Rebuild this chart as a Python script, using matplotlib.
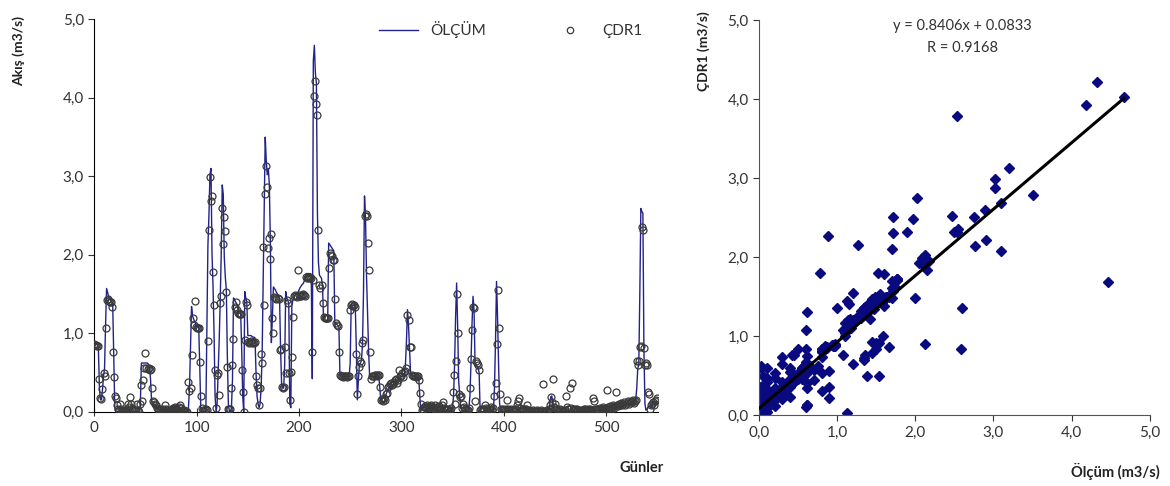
import numpy as np
import matplotlib
matplotlib.use('Agg')
import matplotlib.pyplot as plt
from matplotlib.lines import Line2D
from matplotlib.ticker import FuncFormatter

plt.rcParams['font.family'] = ['Lato', 'DejaVu Sans']

# Daily flow values (m3/s), day 0 ... 550
olcum = [
    0.87, 0.87, 0.86, 0.85, 0.80, 0.30, 0.15, 0.15, 0.28, 0.45,
    0.55, 1.10, 1.57, 1.52, 1.47, 1.45, 1.43, 1.40, 1.36, 0.70,
    0.05, 0.00, 0.00, 0.00, 0.00, 0.00, 0.00, 0.00, 0.00, 0.00,
    0.00, 0.00, 0.00, 0.00, 0.00, 0.00, 0.00, 0.00, 0.00, 0.00,
    0.00, 0.00, 0.00, 0.00, 0.00, 0.10, 0.62, 0.62, 0.62, 0.62,
    0.62, 0.62, 0.62, 0.60, 0.58, 0.40, 0.13, 0.12, 0.10, 0.08,
    0.06, 0.05, 0.04, 0.03, 0.03, 0.02, 0.02, 0.02, 0.01, 0.01,
    0.01, 0.01, 0.01, 0.01, 0.00, 0.00, 0.00, 0.00, 0.00, 0.00,
    0.00, 0.00, 0.00, 0.00, 0.00, 0.00, 0.00, 0.00, 0.00, 0.00,
    0.00, 0.00, 0.05, 0.30, 0.80, 1.34, 1.22, 1.18, 1.15, 1.12,
    1.10, 1.10, 1.08, 0.60, 0.05, 0.00, 0.00, 0.00, 0.00, 0.00,
    1.12, 2.12, 2.50, 3.02, 3.10, 2.02, 1.60, 1.00, 0.20, 0.00,
    0.10, 0.50, 0.90, 1.40, 2.00, 2.89, 2.77, 1.97, 1.72, 1.55,
    0.70, 0.10, 0.00, 0.00, 0.05, 0.40, 1.45, 1.43, 1.40, 1.38,
    1.32, 1.30, 1.28, 1.25, 0.80, 0.20, 0.00, 1.53, 1.45, 1.40,
    0.97, 0.97, 0.97, 0.97, 0.96, 0.95, 0.95, 0.94, 0.50, 0.20,
    0.10, 0.05, 0.10, 0.30, 0.75, 1.70, 2.60, 3.50, 3.20, 3.02,
    3.10, 2.90, 2.18, 0.88, 1.20, 1.59, 1.57, 1.55, 1.52, 1.50,
    1.48, 1.45, 0.80, 0.35, 0.30, 0.30, 0.60, 1.53, 1.45, 1.42,
    1.38, 0.10, 0.05, 1.35, 1.42, 1.45, 1.48, 1.50, 1.50, 1.52,
    1.55, 1.58, 1.60, 1.62, 1.63, 1.66, 1.70, 1.76, 1.76, 1.76,
    1.76, 1.76, 1.70, 0.42, 4.47, 4.67, 4.32, 4.18, 2.53, 1.90,
    1.74, 1.72, 1.70, 1.60, 1.17, 1.16, 1.15, 1.14, 1.14, 2.15,
    2.13, 2.11, 2.09, 2.07, 2.05, 1.13, 1.12, 1.11, 1.10, 1.08,
    0.46, 0.45, 0.45, 0.45, 0.45, 0.45, 0.45, 0.45, 0.45, 0.45,
    0.62, 1.36, 1.36, 1.35, 1.35, 1.34, 0.80, 0.15, 0.40, 0.60,
    0.62, 0.65, 0.85, 1.50, 2.75, 2.47, 1.72, 1.27, 0.78, 0.45,
    0.45, 0.45, 0.45, 0.45, 0.45, 0.45, 0.46, 0.46, 0.45, 0.30,
    0.14, 0.13, 0.13, 0.13, 0.14, 0.22, 0.25, 0.28, 0.30, 0.30,
    0.31, 0.32, 0.33, 0.35, 0.37, 0.38, 0.40, 0.40, 0.42, 0.44,
    0.45, 0.45, 0.46, 0.47, 0.60, 0.90, 1.30, 1.10, 0.80, 0.50,
    0.46, 0.45, 0.45, 0.45, 0.45, 0.44, 0.44, 0.44, 0.20, 0.02,
    0.02, 0.02, 0.02, 0.02, 0.02, 0.02, 0.02, 0.02, 0.02, 0.02,
    0.02, 0.02, 0.02, 0.02, 0.01, 0.01, 0.01, 0.01, 0.01, 0.01,
    0.01, 0.01, 0.01, 0.01, 0.01, 0.01, 0.01, 0.01, 0.01, 0.02,
    0.05, 0.20, 0.60, 1.20, 1.64, 1.10, 0.40, 0.20, 0.05, 0.02,
    0.01, 0.01, 0.00, 0.00, 0.00, 0.00, 0.05, 0.20, 0.60, 1.10,
    1.47, 1.30, 0.62, 0.60, 0.58, 0.55, 0.50, 0.00, 0.00, 0.00,
    0.00, 0.00, 0.00, 0.00, 0.00, 0.00, 0.00, 0.00, 0.00, 0.00,
    0.02, 0.30, 0.90, 1.66, 1.20, 0.60, 0.10, 0.02, 0.00, 0.00,
    0.00, 0.00, 0.00, 0.00, 0.00, 0.00, 0.00, 0.00, 0.00, 0.00,
    0.00, 0.00, 0.00, 0.00, 0.00, 0.00, 0.00, 0.00, 0.00, 0.00,
    0.00, 0.00, 0.00, 0.00, 0.00, 0.00, 0.00, 0.00, 0.00, 0.00,
    0.00, 0.00, 0.00, 0.00, 0.00, 0.00, 0.00, 0.00, 0.00, 0.00,
    0.00, 0.00, 0.00, 0.00, 0.02, 0.08, 0.19, 0.20, 0.10, 0.02,
    0.00, 0.00, 0.00, 0.00, 0.00, 0.00, 0.00, 0.00, 0.00, 0.00,
    0.00, 0.00, 0.00, 0.00, 0.00, 0.00, 0.00, 0.00, 0.00, 0.00,
    0.00, 0.00, 0.00, 0.00, 0.00, 0.00, 0.00, 0.00, 0.00, 0.00,
    0.00, 0.00, 0.00, 0.00, 0.01, 0.01, 0.01, 0.01, 0.01, 0.01,
    0.01, 0.01, 0.02, 0.02, 0.02, 0.02, 0.03, 0.03, 0.03, 0.03,
    0.03, 0.04, 0.04, 0.04, 0.05, 0.05, 0.05, 0.06, 0.06, 0.06,
    0.06, 0.07, 0.07, 0.07, 0.08, 0.08, 0.08, 0.09, 0.09, 0.09,
    0.10, 0.10, 0.10, 0.11, 0.11, 0.12, 0.12, 0.13, 0.13, 0.15,
    0.30, 0.55, 0.60, 1.50, 2.59, 2.55, 2.53, 0.80, 0.10, 0.02,
    0.03, 0.05, 0.06, 0.07, 0.08, 0.08, 0.09, 0.10, 0.11, 0.12,
    0.13,
]

cdr1 = [
    0.86, 0.85, 0.85, 0.84, 0.84, 0.42, 0.17, 0.16, 0.29, 0.49,
    0.45, 1.06, 1.42, 1.43, 1.41, 1.40, 1.40, 1.34, 0.76, 0.44,
    0.20, 0.18, 0.08, 0.04, 0.02, 0.10, 0.04, 0.01, 0.01, 0.01,
    0.01, 0.02, 0.03, 0.10, 0.06, 0.19, 0.10, 0.05, 0.04, 0.02,
    0.02, 0.01, 0.10, 0.02, 0.00, 0.10, 0.34, 0.13, 0.40, 0.55,
    0.75, 0.55, 0.54, 0.55, 0.53, 0.54, 0.30, 0.13, 0.12, 0.10,
    0.08, 0.05, 0.03, 0.02, 0.03, 0.02, 0.01, 0.03, 0.02, 0.09,
    0.04, 0.02, 0.01, 0.01, 0.01, 0.02, 0.04, 0.05, 0.04, 0.06,
    0.05, 0.03, 0.02, 0.06, 0.08, 0.05, 0.02, 0.01, 0.02, 0.00,
    0.01, 0.00, 0.38, 0.26, 0.30, 0.72, 1.20, 1.10, 1.41, 1.08,
    1.07, 1.06, 1.07, 0.63, 0.20, 0.05, 0.02, 0.01, 0.02, 0.03,
    0.02, 0.90, 2.31, 2.99, 2.68, 2.75, 1.78, 1.36, 0.53, 0.05,
    0.47, 0.49, 0.21, 1.38, 1.48, 2.60, 2.14, 2.48, 2.30, 1.53,
    0.57, 0.04, 0.04, 0.03, 0.30, 0.59, 0.93, 1.34, 1.40, 1.30,
    1.26, 1.24, 1.25, 1.24, 0.53, 0.25, 0.00, 0.91, 1.40, 1.36,
    0.89, 0.88, 0.89, 0.90, 0.88, 0.89, 0.88, 0.89, 0.45, 0.34,
    0.30, 0.08, 0.30, 0.74, 0.62, 2.10, 1.36, 2.78, 3.13, 2.87,
    2.08, 2.22, 1.95, 2.27, 1.20, 1.00, 1.46, 1.45, 1.44, 1.45,
    1.43, 0.78, 0.80, 0.32, 0.30, 0.31, 0.83, 0.49, 1.42, 1.38,
    0.49, 0.15, 0.50, 0.70, 1.21, 1.47, 1.49, 1.48, 1.46, 1.80,
    1.49, 1.48, 1.47, 1.49, 1.50, 1.49, 1.48, 1.72, 1.71, 1.72,
    1.71, 1.72, 1.70, 0.76, 1.68, 4.03, 4.21, 3.92, 3.78, 2.32,
    1.62, 1.57, 1.61, 1.38, 1.21, 1.19, 1.20, 1.19, 1.20, 1.83,
    2.02, 2.00, 1.99, 1.93, 1.93, 1.44, 1.13, 1.10, 1.09, 0.76,
    0.47, 0.45, 0.46, 0.44, 0.45, 0.46, 0.45, 0.44, 0.45, 0.46,
    1.30, 1.36, 1.37, 1.35, 1.36, 1.34, 0.74, 0.23, 0.45, 0.57,
    0.64, 0.62, 0.87, 0.91, 2.50, 2.52, 2.50, 2.15, 1.80, 0.76,
    0.42, 0.46, 0.45, 0.46, 0.47, 0.47, 0.46, 0.47, 0.47, 0.32,
    0.15, 0.16, 0.14, 0.17, 0.15, 0.23, 0.24, 0.32, 0.33, 0.35,
    0.36, 0.34, 0.35, 0.38, 0.40, 0.42, 0.36, 0.40, 0.53, 0.45,
    0.46, 0.49, 0.44, 0.51, 0.52, 0.56, 1.23, 1.17, 0.83, 0.83,
    0.47, 0.45, 0.46, 0.45, 0.44, 0.46, 0.45, 0.40, 0.24, 0.10,
    0.02, 0.04, 0.06, 0.07, 0.05, 0.08, 0.06, 0.05, 0.07, 0.09,
    0.06, 0.05, 0.04, 0.08, 0.06, 0.05, 0.03, 0.07, 0.05, 0.04,
    0.09, 0.12, 0.05, 0.03, 0.04, 0.02, 0.03, 0.01, 0.02, 0.05,
    0.25, 0.47, 0.10, 0.65, 1.50, 1.00, 0.23, 0.19, 0.20, 0.05,
    0.10, 0.06, 0.04, 0.03, 0.02, 0.02, 0.05, 0.30, 0.67, 1.04,
    1.34, 1.32, 0.13, 0.64, 0.62, 0.60, 0.53, 0.02, 0.04, 0.01,
    0.03, 0.02, 0.09, 0.05, 0.04, 0.01, 0.02, 0.03, 0.06, 0.02,
    0.05, 0.20, 0.36, 0.86, 1.55, 1.07, 0.23, 0.04, 0.02, 0.03,
    0.02, 0.01, 0.03, 0.15, 0.04, 0.02, 0.01, 0.03, 0.02, 0.01,
    0.02, 0.03, 0.04, 0.08, 0.13, 0.17, 0.05, 0.02, 0.01, 0.03,
    0.02, 0.04, 0.03, 0.08, 0.02, 0.01, 0.01, 0.00, 0.01, 0.02,
    0.01, 0.00, 0.01, 0.02, 0.01, 0.00, 0.02, 0.01, 0.35, 0.01,
    0.00, 0.01, 0.02, 0.00, 0.03, 0.08, 0.19, 0.12, 0.42, 0.06,
    0.10, 0.04, 0.03, 0.02, 0.01, 0.03, 0.02, 0.01, 0.00, 0.01,
    0.02, 0.20, 0.06, 0.04, 0.03, 0.30, 0.05, 0.36, 0.03, 0.02,
    0.04, 0.01, 0.03, 0.02, 0.01, 0.00, 0.02, 0.01, 0.03, 0.04,
    0.02, 0.01, 0.03, 0.01, 0.04, 0.02, 0.01, 0.17, 0.13, 0.03,
    0.02, 0.03, 0.04, 0.02, 0.05, 0.03, 0.04, 0.06, 0.03, 0.05,
    0.04, 0.27, 0.06, 0.05, 0.07, 0.04, 0.06, 0.08, 0.05, 0.07,
    0.25, 0.08, 0.07, 0.10, 0.09, 0.11, 0.08, 0.10, 0.12, 0.09,
    0.11, 0.13, 0.10, 0.12, 0.14, 0.12, 0.15, 0.11, 0.13, 0.15,
    0.65, 0.60, 0.64, 0.83, 0.84, 2.35, 2.32, 0.81, 0.60, 0.62,
    0.60, 0.25, 0.23, 0.04, 0.08, 0.10, 0.12, 0.09, 0.14, 0.15,
    0.18,
]

# trend line as printed on the chart
slope = 0.8406
intercept = 0.0833
r_value = 0.9168

days = np.arange(len(olcum))
olcum = np.array(olcum)
cdr1 = np.array(cdr1)

comma = FuncFormatter(lambda v, p: f'{v:.1f}'.replace('.', ','))
navy = '#22228a'
txt = '#333333'

fig = plt.figure(figsize=(11.7, 4.86), dpi=100)

# left: time series
ax1 = fig.add_axes([0.0806, 0.153, 0.482, 0.807])
ax1.plot(days, olcum, color=navy, lw=1.0, label='ÖLÇÜM', zorder=2)
ax1.plot(days, cdr1, ls='none', marker='o', ms=5.0, mfc='none',
         mec='#3a3a3a', mew=0.9, label='ÇDR1', zorder=3)
ax1.set_xlim(0, 551)
ax1.set_ylim(0, 5)
ax1.set_xticks([0, 100, 200, 300, 400, 500])
ax1.set_yticks([0, 1, 2, 3, 4, 5])
ax1.yaxis.set_major_formatter(comma)
for s in ['top', 'right']:
    ax1.spines[s].set_visible(False)
ax1.tick_params(labelsize=11, colors=txt, length=4, width=0.8)
ax1.tick_params(axis='x', direction='inout', length=6)
ax1.legend(handles=[Line2D([], [], color=navy, lw=1.0),
                    Line2D([], [], ls='none', marker='o', ms=4.6, mfc='none', mec='#3a3a3a', mew=0.9)],
           labels=['ÖLÇÜM', 'ÇDR1'], ncol=2, frameon=False, loc='upper left',
           bbox_to_anchor=(0.48, 1.03), handlelength=2.6, columnspacing=4.2,
           fontsize=11, labelcolor=txt)

fig.text(0.016, 0.895, 'Akış (m3/s)', rotation=90, ha='center', va='center',
         fontsize=10, fontweight='bold', color='#222222')
fig.text(0.567, 0.038, 'Günler', ha='right', va='center',
         fontsize=10.5, fontweight='bold', color='#222222')

# right: scatter of model vs measurement
ax2 = fig.add_axes([0.6487, 0.146, 0.334, 0.813])
ax2.plot(olcum, cdr1, ls='none', marker='D', ms=4.6, color='#0a0a80', zorder=2)
xl = np.array([0, olcum.max()])
ax2.plot(xl, slope * xl + intercept, color='black', lw=2.2, zorder=3)
ax2.set_xlim(0, 5)
ax2.set_ylim(0, 5)
ax2.set_xticks([0, 1, 2, 3, 4, 5])
ax2.set_yticks([0, 1, 2, 3, 4, 5])
ax2.xaxis.set_major_formatter(comma)
ax2.yaxis.set_major_formatter(comma)
for s in ['top', 'right']:
    ax2.spines[s].set_visible(False)
for s in ['left', 'bottom']:
    ax2.spines[s].set_color('#555555')
ax2.tick_params(labelsize=11, colors=txt, length=4, width=0.8)
ax2.text(0.52, 0.985, f'y = {slope}x + {intercept}', transform=ax2.transAxes,
         ha='center', va='center', fontsize=10.5, color=txt)
ax2.text(0.52, 0.93, f'R = {r_value}', transform=ax2.transAxes,
         ha='center', va='center', fontsize=10.5, color=txt)

fig.text(0.601, 0.895, 'ÇDR1 (m3/s)', rotation=90, ha='center', va='center',
         fontsize=10, fontweight='bold', color='#222222')
fig.text(0.991, 0.03, 'Ölçüm (m3/s)', ha='right', va='center',
         fontsize=10.5, fontweight='bold', color='#222222')

fig.savefig('out.png', dpi=100)
